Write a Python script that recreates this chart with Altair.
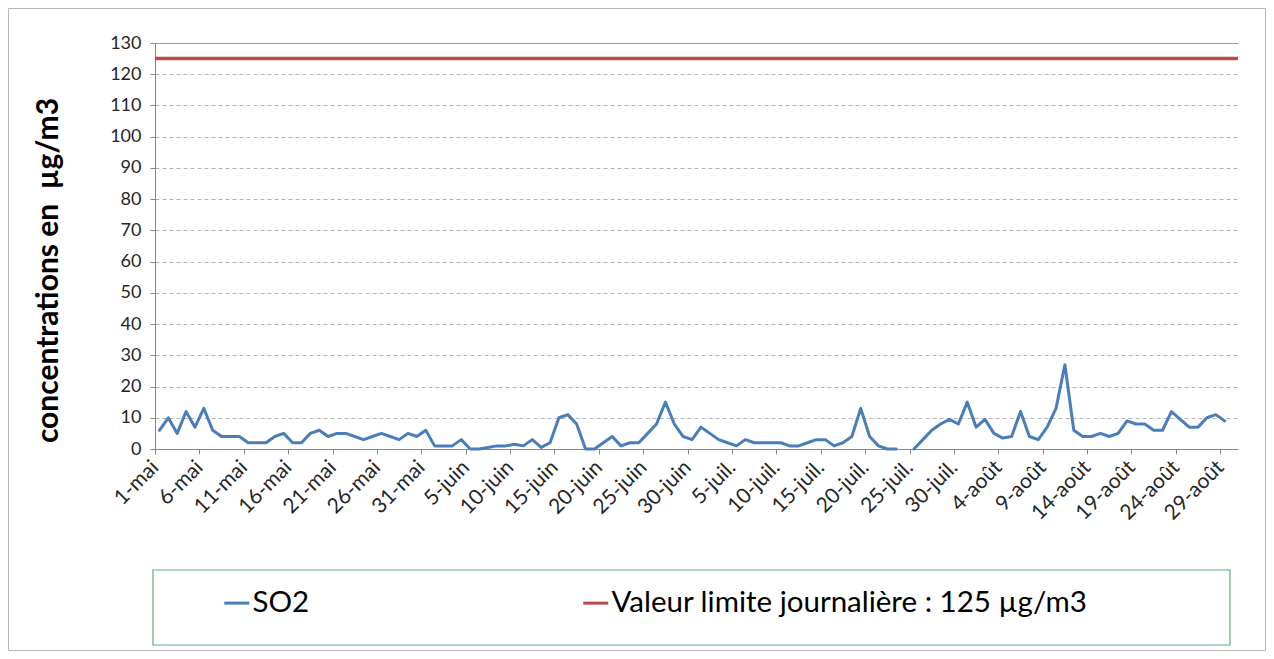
import json
import altair as alt
import pandas as pd

# ---- data (daily SO2 concentrations, 1 May -> 30 Aug) ----
so2_mai = [6, 10, 5, 12, 7, 13, 6, 4, 4, 4, 2, 2, 2, 4, 5, 2, 2, 5, 6, 4,
           5, 5, 4, 3, 4, 5, 4, 3, 5, 4, 6]
so2_juin = [1, 1, 1, 3, 0, 0, 0.5, 1, 1, 1.5, 1, 3, 0.5, 2, 10, 11, 8, 0, 0, 2,
            4, 1, 2, 2, 5, 8, 15, 8, 4, 3]
so2_juil = [7, 5, 3, 2, 1, 3, 2, 2, 2, 2, 1, 1, 2, 3, 3, 1, 2, 4, 13, 4,
            1, 0, 0, None, 0, 3, 6, 8, 9.5, 8, 15]
so2_aout = [7, 9.5, 5, 3.5, 4, 12, 4, 3, 7, 13, 27, 6, 4, 4, 5, 4, 5, 9, 8, 8,
            6, 6, 12, 9.5, 7, 7, 10, 11, 9, None]
so2 = so2_mai + so2_juin + so2_juil + so2_aout

tick_labels = ["1-mai", "6-mai", "11-mai", "16-mai", "21-mai", "26-mai", "31-mai",
               "5-juin", "10-juin", "15-juin", "20-juin", "25-juin", "30-juin",
               "5-juil.", "10-juil.", "15-juil.", "20-juil.", "25-juil.", "30-juil.",
               "4-août", "9-août", "14-août", "19-août", "24-août", "29-août"]
series_names = ["SO2", "Valeur limite journalière : 125 µg/m3"]
limit_value = [125]

blue = "#4a7ebb"
red = "#be4b48"
font = "Lato"

# segments (break the line where values are missing)
segs, seg, gap = [], 0, False
for v in so2:
    if v is None:
        gap = True
    elif gap:
        seg += 1
        gap = False
    segs.append(seg)

df = pd.DataFrame({"jour": list(range(len(so2))), "valeur": so2,
                   "segment": segs, "serie": series_names[0]})
df = df.dropna(subset=["valeur"])
limit_df = pd.DataFrame({"valeur": limit_value, "serie": [series_names[1]]})

n = len(so2)
W, H = 1083, 406

color_scale = alt.Scale(domain=series_names, range=[blue, red])
x_scale = alt.Scale(domain=[-0.5, n - 0.5], nice=False, zero=False)
y_scale = alt.Scale(domain=[0, 130], nice=False)

label_expr = json.dumps(tick_labels, ensure_ascii=False) + "[round(datum.value/5)]"

x_axis = alt.Axis(values=list(range(0, 121, 5)), labelExpr=label_expr,
                  labelAngle=315, labelAlign="right", labelBaseline="middle",
                  labelFont=font, labelFontSize=21, labelColor="#262626",
                  labelPadding=10, tickSize=5, tickOffset=-W / n / 2,
                  tickColor="#868686", domainColor="#868686", grid=False,
                  title=None, labelOverlap=False)
y_axis = alt.Axis(values=list(range(0, 131, 10)), tickSize=5, labelPadding=9,
                  labelFont=font, labelFontSize=18, labelColor="#262626",
                  labelOverlap=False,
                  tickColor="#868686", domainColor="#868686",
                  grid=True,
                  gridColor={"condition": {"test": "datum.value === 130", "value": "#9a9a9a"},
                             "value": "#b4b4b4"},
                  gridDash={"condition": {"test": "datum.value === 130", "value": []},
                            "value": [4, 3]},
                  title="concentrations en \u00a0µg/m3", titleFont=font,
                  titleFontSize=30, titleFontWeight="bold", titleColor="#000000",
                  titleAngle=270, titleX=-107, titleY=227, titleAlign="center",
                  titleBaseline="middle")

legend = alt.Legend(title=None, orient="none", legendX=67, legendY=545,
                    direction="horizontal", symbolType="stroke", symbolSize=625,
                    symbolStrokeWidth=3, labelFont=font, labelFontSize=29.5,
                    labelColor="#000000", labelLimit=800, columnPadding=267,
                    labelOffset=1, padding=0)

line = alt.Chart(df).mark_line(strokeWidth=3, strokeJoin="round", strokeCap="round").encode(
    x=alt.X("jour:Q", scale=x_scale, axis=x_axis),
    y=alt.Y("valeur:Q", scale=y_scale, axis=y_axis),
    color=alt.Color("serie:N", scale=color_scale, legend=legend),
    detail="segment:N",
)

rule = alt.Chart(limit_df).mark_rule(strokeWidth=3.5).encode(
    y=alt.Y("valeur:Q", scale=y_scale, axis=y_axis),
    color=alt.Color("serie:N", scale=color_scale, legend=legend),
)

frame_df = pd.DataFrame({"k": [0]})
legend_frame = alt.Chart(frame_df).mark_rect(filled=False, stroke="#62ad7c", strokeWidth=1.2).encode(
    x=alt.value(-2), x2=alt.value(1075), y=alt.value(527), y2=alt.value(602)
)
outer_frame = alt.Chart(frame_df).mark_rect(filled=False, stroke="#b8b8b8", strokeWidth=1).encode(
    x=alt.value(-146.5), x2=alt.value(W + 27.5), y=alt.value(-34.5), y2=alt.value(H + 201.5)
)

chart = alt.layer(outer_frame, legend_frame, rule, line).properties(
    width=W, height=H,
    autosize=alt.AutoSizeParams(type="none"),
    padding={"left": 147, "top": 35, "right": 28, "bottom": 202},
    background="white",
).configure_view(strokeWidth=0)

chart.save("out.html", embed_options={"renderer": "svg", "actions": False})
